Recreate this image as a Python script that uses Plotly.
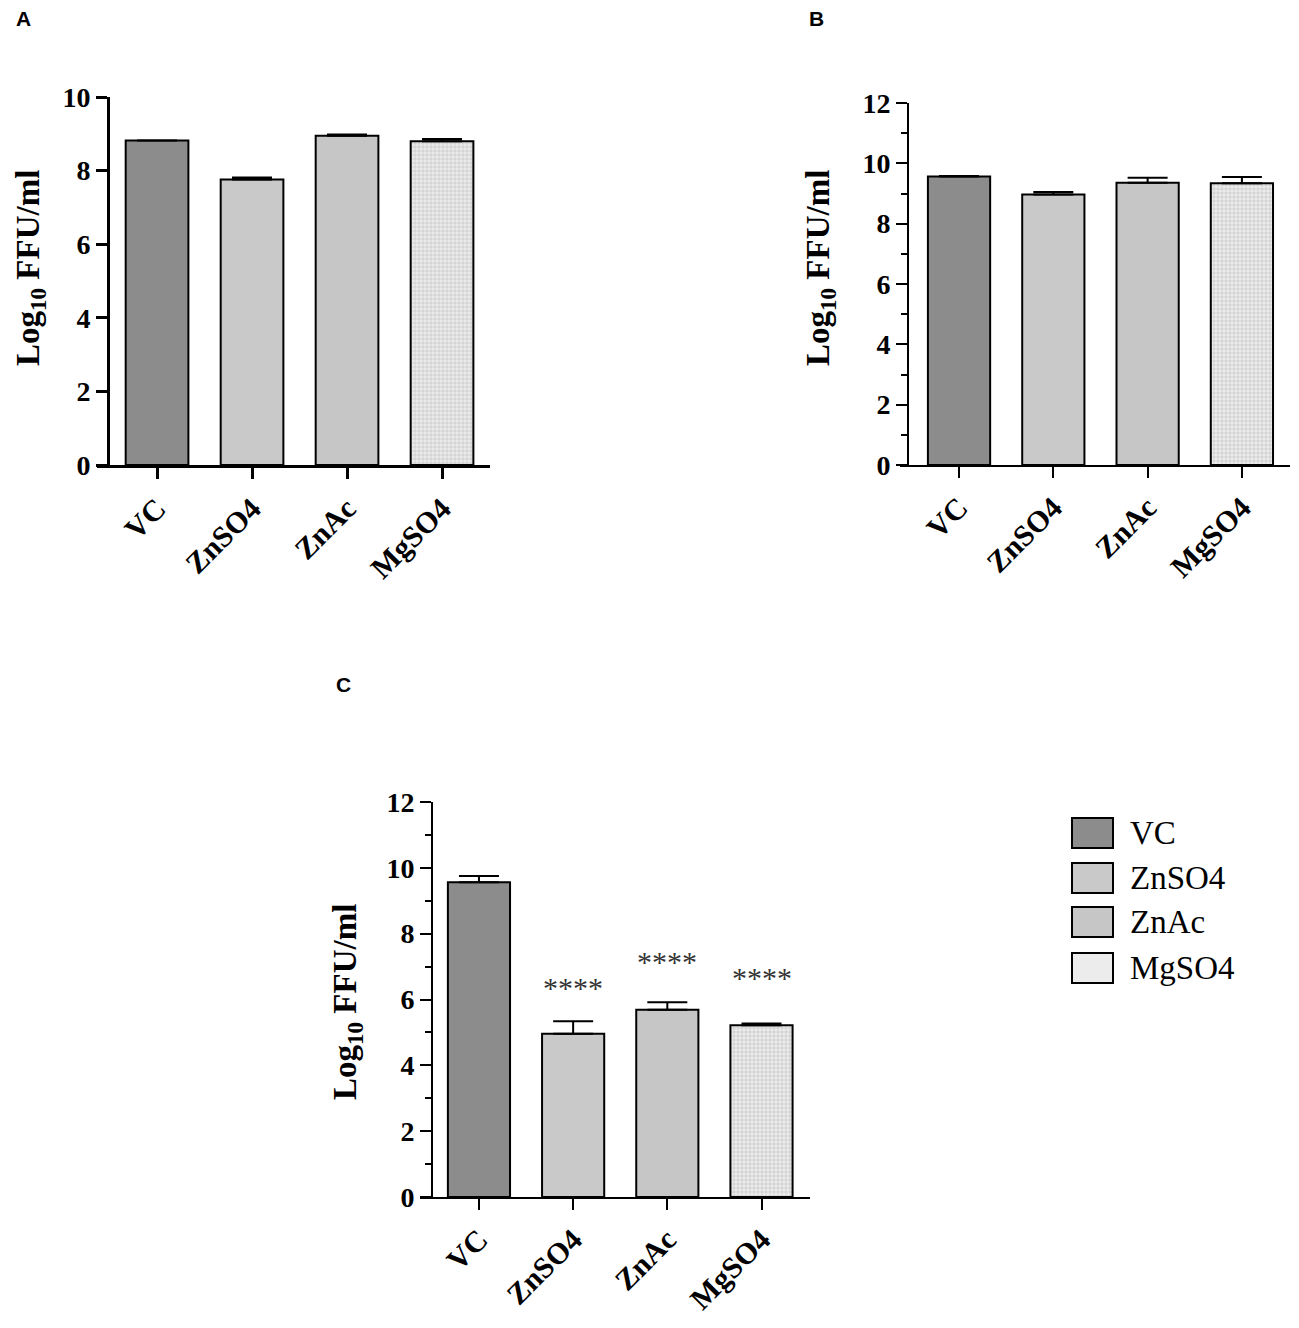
import plotly.graph_objects as go

# -------------------------
# Daten
# -------------------------
categories = ["VC", "ZnSO4", "ZnAc", "MgSO4"]

vals_a = [8.82, 7.76, 8.95, 8.80]
err_a = [0.0, 0.05, 0.03, 0.06]

vals_b = [9.56, 8.97, 9.36, 9.34]
err_b = [0.02, 0.08, 0.16, 0.21]

vals_c = [9.56, 4.96, 5.69, 5.22]
err_c = [0.19, 0.38, 0.23, 0.05]
stars_c = ["", "****", "****", "****"]
star_y_c = [0, 6.37, 7.14, 6.67]

bar_colors = ["#8c8c8c", "#c9c9c9", "#c6c6c6", "#ececec"]
bar_patterns = ["", "", "", "+"]

W, H = 1299, 1328
OFF = 8  # body-margin der html-Seite
serif = "Liberation Serif"


def px(x):
    return (x - OFF) / W


def py(y):
    return 1 - (y - OFF) / H


fig = go.Figure()

# Panel-Geometrie (Pixel): x-Achse links/rechts, y-Achse x, y0/yTop
panels = [
    dict(name="A", vals=vals_a, err=err_a, xl=97, xr=490, yax=108, y0=465, y1=97,
         ymax=10, minor=False, lw=3, xrange=[-0.632, 3.505]),
    dict(name="B", vals=vals_b, err=err_b, xl=900, xr=1290, yax=908, y0=465, y1=103,
         ymax=12, minor=True, lw=2, xrange=[-0.626, 3.51]),
    dict(name="C", vals=vals_c, err=err_c, xl=420, xr=810, yax=432, y0=1197, y1=802,
         ymax=12, minor=True, lw=2, xrange=[-0.626, 3.515]),
]

for i, p in enumerate(panels, start=1):
    xa = "x" if i == 1 else f"x{i}"
    ya = "y" if i == 1 else f"y{i}"
    fig.add_trace(go.Bar(
        x=categories, y=p["vals"], xaxis=xa, yaxis=ya, width=0.66,
        marker=dict(color=bar_colors, line=dict(color="black", width=2),
                    pattern=dict(shape=bar_patterns, size=4, solidity=0.15,
                                 fgcolor="#d6d6d6", fillmode="overlay")),
        error_y=dict(type="data", symmetric=False, array=p["err"],
                     arrayminus=[0] * 4, color="black", thickness=2, width=20),
        showlegend=False,
    ))
    xkey = "xaxis" if i == 1 else f"xaxis{i}"
    ykey = "yaxis" if i == 1 else f"yaxis{i}"
    fig.layout[xkey] = dict(
        domain=[px(p["xl"]), px(p["xr"])], anchor=ya, range=p["xrange"], automargin=False,
        showline=True, linecolor="black", linewidth=p["lw"],
        ticks="outside", ticklen=11, tickwidth=p["lw"], tickcolor="black",
        tickangle=-45, showgrid=False, zeroline=False,
        tickfont=dict(family=serif, size=30, color="black", weight="bold"),
    )
    yax = dict(
        domain=[py(p["y0"]), py(p["y1"])], anchor="free", position=px(p["yax"]),
        range=[0, p["ymax"]], tickvals=list(range(0, p["ymax"] + 1, 2)), automargin=False,
        showline=True, linecolor="black", linewidth=p["lw"],
        ticks="outside", ticklen=11, tickwidth=p["lw"], tickcolor="black",
        showgrid=False, zeroline=False,
        tickfont=dict(family=serif, size=28, color="black", weight="bold"),
    )
    if p["minor"]:
        yax["minor"] = dict(dtick=1, ticks="outside", ticklen=6, tickwidth=2, tickcolor="black")
    fig.layout[ykey] = yax

# Signifikanz-Sterne Panel C
for cat, s, sy in zip(categories, stars_c, star_y_c):
    if s:
        fig.add_annotation(x=cat, y=sy, xref="x3", yref="y3", text=s, showarrow=False,
                           xanchor="center", yanchor="middle",
                           font=dict(family=serif, size=30, color="#333333"))

# Achsentitel
for (tx, ty) in [(30, 268), (820, 268), (347, 1002)]:
    fig.add_annotation(x=px(tx), y=py(ty), xref="paper", yref="paper",
                       xanchor="center", yanchor="middle",
                       text="<b>Log<sub>10</sub> FFU/ml</b>", textangle=-90, showarrow=False,
                       font=dict(family=serif, size=33, color="black"))

# Panel-Buchstaben
for (lbl, lx, ly) in [("A", 23, 19), ("B", 816, 19), ("C", 343, 684)]:
    fig.add_annotation(x=px(lx), y=py(ly), xref="paper", yref="paper", text=f"<b>{lbl}</b>",
                       xanchor="center", yanchor="middle",
                       showarrow=False, font=dict(family="Liberation Sans", size=21, color="black"))

# Legende (manuell, grosse Kaestchen)
leg_y = [833, 878, 922, 968]
for cat, col, ly in zip(categories, bar_colors, leg_y):
    fig.add_shape(type="rect", xref="paper", yref="paper",
                  x0=px(1072), x1=px(1113), y0=py(ly + 15), y1=py(ly - 15),
                  fillcolor=col, line=dict(color="black", width=2))
    fig.add_annotation(x=px(1128), y=py(ly), xref="paper", yref="paper", text=cat,
                       xanchor="left", yanchor="middle", showarrow=False,
                       font=dict(family=serif, size=33, color="black"))

fig.update_layout(
    width=W, height=H, margin=dict(l=0, r=0, t=0, b=0),
    plot_bgcolor="white", paper_bgcolor="white", bargap=0.34,
)

fig.write_html("out.html")
